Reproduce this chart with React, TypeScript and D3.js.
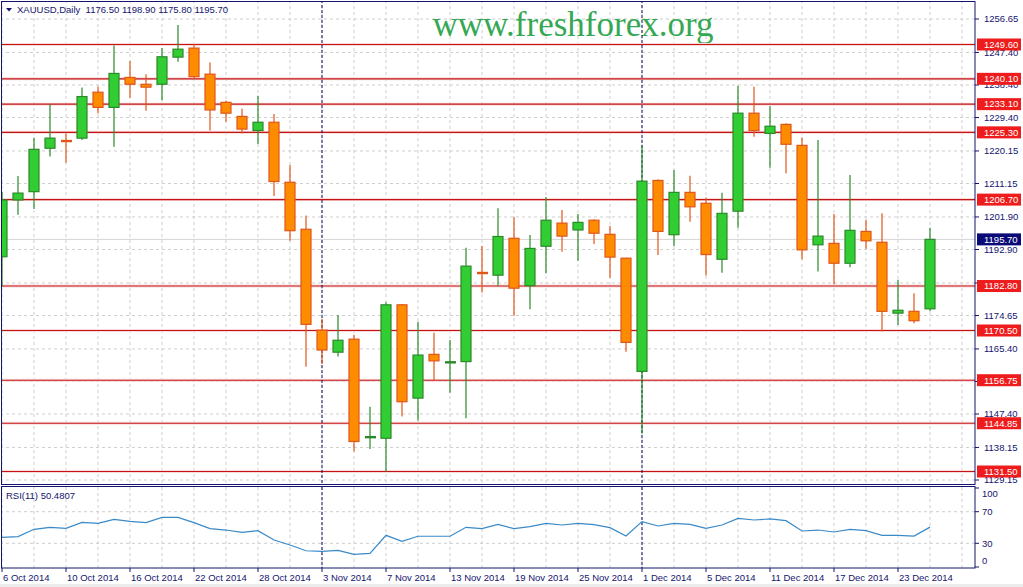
import React from 'react';
import * as d3 from 'd3';

// daily bars 6 Oct 2014 .. 26 Dec 2014
const OPEN = [
  1190.9, 1206.6, 1208.9, 1220.9, 1223.0, 1223.7, 1236.4, 1232.2, 1240.5, 1238.6,
  1238.6, 1246.1, 1248.6, 1241.4, 1233.6, 1229.7, 1225.8, 1228.1, 1211.5, 1198.5,
  1170.6, 1164.5, 1168.1, 1140.8, 1140.7, 1177.6, 1151.8, 1163.9, 1161.5, 1161.9,
  1186.6, 1185.8, 1196.0, 1182.9, 1193.8, 1200.2, 1198.3, 1201.0, 1197.1, 1190.5,
  1159.2, 1212.0, 1197.0, 1208.7, 1205.7, 1190.2, 1203.5, 1230.6, 1225.0, 1227.5,
  1221.7, 1194.2, 1194.6, 1189.1, 1197.9, 1194.9, 1175.3, 1175.8, 1176.5,
];
const HIGH = [
  1208.9, 1213.2, 1223.8, 1233.1, 1225.0, 1237.7, 1237.9, 1249.3, 1245.0, 1241.4,
  1248.6, 1255.0, 1249.7, 1244.6, 1234.1, 1231.8, 1235.4, 1230.4, 1216.3, 1202.3,
  1173.6, 1174.8, 1169.3, 1149.4, 1178.3, 1177.8, 1172.9, 1169.9, 1167.9, 1193.4,
  1193.9, 1204.3, 1201.8, 1196.9, 1207.4, 1203.8, 1202.7, 1201.3, 1199.4, 1190.6,
  1221.6, 1212.3, 1214.9, 1213.3, 1207.3, 1208.6, 1238.1, 1237.9, 1232.6, 1227.8,
  1223.9, 1223.2, 1202.7, 1213.5, 1201.1, 1202.9, 1184.5, 1180.8, 1198.9,
];
const LOW = [
  1182.6, 1202.5, 1204.1, 1218.6, 1216.9, 1223.2, 1230.6, 1221.3, 1234.9, 1231.3,
  1234.1, 1244.8, 1240.0, 1225.8, 1228.2, 1225.0, 1222.1, 1207.7, 1195.3, 1160.5,
  1161.2, 1163.3, 1137.0, 1137.7, 1131.5, 1146.7, 1145.6, 1156.5, 1153.3, 1146.2,
  1181.0, 1182.9, 1174.6, 1176.4, 1186.3, 1192.3, 1189.8, 1194.4, 1185.1, 1164.6,
  1142.1, 1191.4, 1193.9, 1200.6, 1185.7, 1186.5, 1198.9, 1224.1, 1215.5, 1214.0,
  1190.2, 1186.8, 1183.3, 1188.0, 1193.1, 1170.2, 1172.0, 1172.5, 1175.8,
];
const CLOSE = [
  1206.6, 1208.5, 1220.6, 1223.7, 1222.8, 1235.2, 1232.2, 1241.6, 1238.6, 1237.8,
  1246.2, 1248.3, 1240.7, 1231.5, 1230.6, 1226.2, 1228.1, 1211.7, 1198.1, 1172.2,
  1165.1, 1167.8, 1139.8, 1141.2, 1177.6, 1150.8, 1163.7, 1162.1, 1161.9, 1188.3,
  1186.2, 1196.5, 1182.2, 1193.2, 1201.0, 1196.6, 1200.4, 1197.4, 1190.8, 1167.2,
  1211.8, 1197.9, 1208.7, 1204.7, 1191.5, 1202.9, 1230.6, 1225.8, 1227.0, 1222.0,
  1192.8, 1196.6, 1189.1, 1198.2, 1195.3, 1175.8, 1176.1, 1173.2, 1195.7,
];
const RSI = [
  37.6, 38.4, 47.7, 50.2, 49.0, 56.5, 55.3, 60.3, 57.8, 56.1,
  62.9, 62.9, 56.1, 48.5, 46.8, 43.9, 46.0, 34.2, 27.8, 20.6,
  19.8, 21.1, 16.1, 17.3, 40.1, 32.5, 38.9, 38.9, 38.9, 50.2,
  48.5, 54.0, 48.5, 51.1, 55.3, 53.2, 55.3, 53.6, 49.8, 39.2,
  57.4, 51.9, 55.3, 54.0, 49.0, 53.2, 61.6, 59.5, 60.8, 58.6,
  45.6, 46.8, 44.3, 47.7, 46.0, 40.1, 40.1, 39.2, 50.5,
];
// one label every 4 bars
const DATE_LABELS = [
  '6 Oct 2014', '10 Oct 2014', '16 Oct 2014', '22 Oct 2014', '28 Oct 2014',
  '3 Nov 2014', '7 Nov 2014', '13 Nov 2014', '19 Nov 2014', '25 Nov 2014',
  '1 Dec 2014', '5 Dec 2014', '11 Dec 2014', '17 Dec 2014', '23 Dec 2014',
];
const PRICE_TICKS = [
  1256.65, 1247.4, 1238.4, 1229.4, 1220.15, 1211.15, 1201.9, 1192.9,
  1183.65, 1174.65, 1165.4, 1156.4, 1147.4, 1138.15, 1129.15,
];
const LEVELS = [1249.6, 1240.1, 1233.1, 1225.3, 1206.7, 1182.8, 1170.5, 1156.75, 1144.85, 1131.5];
const LAST_PRICE = 1195.7;
const SEPARATORS = [20, 40];

const AXIS_X = 975;
const FONT = '"Liberation Sans", Arial, sans-serif';
const NAVY = '#14146e';

export default function App() {
  const x = d3.scaleLinear().domain([0, 58]).range([2, 930]);
  const y = d3.scaleLinear().domain([1129.15, 1256.65]).range([480, 19]);
  const yR = d3.scaleLinear().domain([0, 100]).range([567, 488]);

  const rsiLine = d3
    .line<number>()
    .x((d, i) => x(i))
    .y(d => yR(d));

  const gridBars = d3.range(0, 61, 2).filter(i => x(i) < AXIS_X);

  return (
    <div style={{ position: 'fixed', left: 0, top: 0 }}>
      <svg width={1023} height={587} style={{ display: 'block', background: '#fff' }}>
        <defs>
          <clipPath id="main">
            <rect x={1} y={1} width={AXIS_X - 1} height={483} />
          </clipPath>
          <clipPath id="sub">
            <rect x={1} y={487} width={AXIS_X - 1} height={81} />
          </clipPath>
        </defs>

        <rect x={0} y={584} width={1023} height={3} fill="#ececec" />

        {/* main panel */}
        <g clipPath="url(#main)">
          {PRICE_TICKS.map(p => (
            <line key={p} x1={0} x2={AXIS_X} y1={y(p)} y2={y(p)} stroke="#cfcfcf" strokeDasharray="3,3" />
          ))}
          {gridBars.map(i => (
            <line key={i} x1={x(i)} x2={x(i)} y1={0} y2={485} stroke="#cfcfcf" strokeDasharray="3,3" />
          ))}
          <text
            x={573}
            y={36}
            textAnchor="middle"
            fontFamily='"Liberation Serif", "Times New Roman", serif'
            fontSize={35}
            fill="#34a853"
          >
            www.freshforex.org
          </text>
          <line x1={0} x2={AXIS_X} y1={y(LAST_PRICE)} y2={y(LAST_PRICE)} stroke="#d4d4d4" />
          {LEVELS.map(p => (
            <g key={p}>
              <line x1={0} x2={AXIS_X} y1={y(p)} y2={y(p)} stroke="#f8dada" strokeWidth={3} />
              <line x1={0} x2={AXIS_X} y1={y(p)} y2={y(p)} stroke="#c41414" strokeWidth={1.1} />
            </g>
          ))}
          {SEPARATORS.map(i => (
            <line key={i} x1={x(i)} x2={x(i)} y1={0} y2={485} stroke="#0a0a50" strokeDasharray="3,2" />
          ))}
          {OPEN.map((o, i) => {
            const c = CLOSE[i];
            const up = c >= o;
            const cx = x(i);
            const top = y(Math.max(o, c));
            const bot = y(Math.min(o, c));
            const wick = up ? '#2a8a2a' : '#e0561a';
            return (
              <g key={i}>
                <line x1={cx} x2={cx} y1={y(HIGH[i])} y2={y(LOW[i])} stroke={wick} strokeWidth={1.2} />
                {bot - top < 2 ? (
                  <rect x={cx - 5} y={(top + bot) / 2 - 1.2} width={11} height={2.4} fill={wick} />
                ) : (
                  <rect
                    x={cx - 5}
                    y={top}
                    width={10}
                    height={bot - top}
                    fill={up ? '#32cd32' : '#ff8c00'}
                    stroke={wick}
                    strokeWidth={1.2}
                  />
                )}
              </g>
            );
          })}
        </g>

        {/* RSI panel */}
        <g clipPath="url(#sub)">
          {[70, 30].map(v => (
            <line key={v} x1={0} x2={AXIS_X} y1={yR(v)} y2={yR(v)} stroke="#cfcfcf" strokeDasharray="3,3" />
          ))}
          {gridBars.map(i => (
            <line key={i} x1={x(i)} x2={x(i)} y1={487} y2={568} stroke="#cfcfcf" strokeDasharray="3,3" />
          ))}
          {SEPARATORS.map(i => (
            <line key={i} x1={x(i)} x2={x(i)} y1={487} y2={568} stroke="#0a0a50" strokeDasharray="3,2" />
          ))}
          <path d={rsiLine(RSI) || ''} fill="none" stroke="#3a8ac8" strokeWidth={1.2} />
        </g>

        {/* frames */}
        <rect x={1.5} y={1.5} width={AXIS_X - 1.5} height={483} fill="none" stroke={NAVY} />
        <rect x={1.5} y={486.5} width={AXIS_X - 1.5} height={81.5} fill="none" stroke={NAVY} />

        {/* price axis */}
        {PRICE_TICKS.map(p => (
          <g key={p}>
            <line x1={AXIS_X} x2={AXIS_X + 4} y1={y(p)} y2={y(p)} stroke={NAVY} />
            <text x={984} y={y(p)} dy="0.35em" fontFamily={FONT} fontSize={9.5} fill={NAVY}>
              {p.toFixed(2)}
            </text>
          </g>
        ))}
        {LEVELS.map(p => (
          <g key={p}>
            <rect x={977} y={y(p) - 6} width={44} height={12} fill="#ee1c1c" />
            <text x={984} y={y(p)} dy="0.35em" fontFamily={FONT} fontSize={9.5} fill="#fff">
              {p.toFixed(2)}
            </text>
          </g>
        ))}
        <rect x={977} y={y(LAST_PRICE) - 6} width={44} height={12} fill="#0a0a78" />
        <text x={984} y={y(LAST_PRICE)} dy="0.35em" fontFamily={FONT} fontSize={9.5} fill="#fff">
          {LAST_PRICE.toFixed(2)}
        </text>

        {/* RSI axis */}
        {[
          [100, 494],
          [70, yR(70)],
          [30, yR(30)],
          [0, 561],
        ].map(([v, ty]) => (
          <g key={v}>
            <line x1={AXIS_X} x2={AXIS_X + 4} y1={yR(v)} y2={yR(v)} stroke={NAVY} />
            <text x={982} y={ty} dy="0.35em" fontFamily={FONT} fontSize={9.5} fill={NAVY}>
              {v}
            </text>
          </g>
        ))}

        {/* date axis */}
        {DATE_LABELS.map((d, k) => (
          <g key={d}>
            <line x1={x(k * 4)} x2={x(k * 4)} y1={568} y2={572} stroke={NAVY} />
            <text x={x(k * 4) + 1} y={581} fontFamily={FONT} fontSize={9.5} fill={NAVY}>
              {d}
            </text>
          </g>
        ))}

        {/* headers */}
        <path d="M6,8 L12,8 L9,11.5 Z" fill={NAVY} />
        <text x={17} y={13} fontFamily={FONT} fontSize={9.5} fill={NAVY} xmlSpace="preserve">
          {'XAUUSD,Daily  1176.50 1198.90 1175.80 1195.70'}
        </text>
        <text x={6} y={499} fontFamily={FONT} fontSize={9.5} fill={NAVY}>
          RSI(11) 50.4807
        </text>
      </svg>
    </div>
  );
}
